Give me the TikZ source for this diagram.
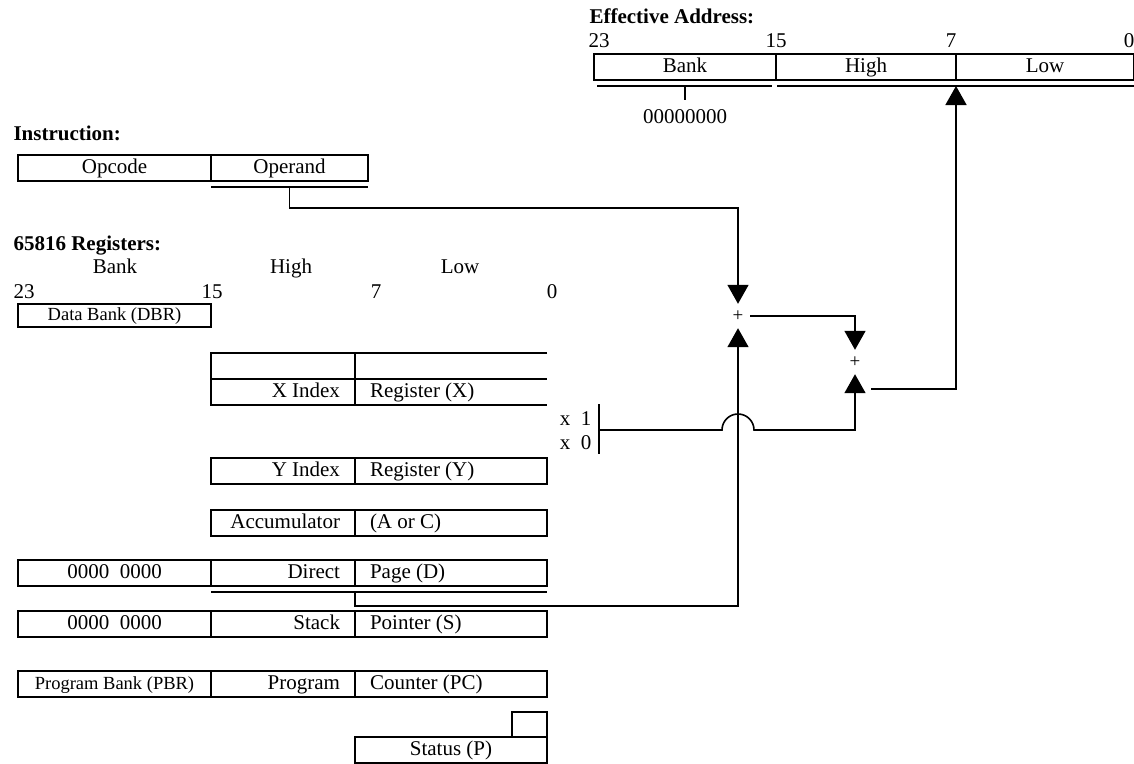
\documentclass[tikz,border=0pt]{standalone}
\usepackage{fontspec}
\setmainfont{Liberation Serif}
\usetikzlibrary{arrows.meta}

\tikzset{
  regcell/.style={draw, line width=2pt, anchor=north west, minimum height=26pt, outer sep=0pt,
    inner ysep=0pt, inner xsep=15pt, text height=14pt, text depth=4pt},
  bankcell/.style={regcell, text width=163pt, align=flush center},
  highcell/.style={regcell, text width=114pt, align=flush right},
  lowcell/.style={regcell, text width=162pt, align=flush left},
  smalltext/.style={font=\fontsize{18.5}{22}\selectfont},
  title/.style={anchor=base west, font=\fontsize{21}{24}\selectfont\bfseries},
  bitnum/.style={anchor=base},
  adder/.style={minimum size=24pt, inner sep=0pt, font=\fontsize{19}{19}\selectfont},
  conn/.style={line width=1.6pt},
  uline/.style={line width=2pt},
}

\begin{document}
\begin{tikzpicture}[x=1pt, y=-1pt, >={Triangle[length=19pt, width=21pt]},
    every node/.append style={font=\fontsize{21}{24}\selectfont}]
  \useasboundingbox (0,0) rectangle (1134,763);

  % effective address
  \node[title] (eatitle) at (586,23) {Effective Address:};
  \node[anchor=base west] (ea23) at (585,47) {23};
  \node[bitnum] (ea15) at (776,47) {15};
  \node[bitnum] (ea7) at (951,47) {7};
  \node[bitnum] (ea0) at (1129,47) {0};
  \node[regcell, minimum width=182pt, inner xsep=0pt] (eabank) at (594,54) {Bank};
  \node[regcell, minimum width=180pt, inner xsep=0pt] (eahigh) at (eabank.north east) {High};
  \node[regcell, minimum width=178pt, inner xsep=0pt] (ealow) at (eahigh.north east) {Low};
  \draw[uline] ([xshift=3pt, yshift=-6pt]eabank.south west) -- ([xshift=-4pt, yshift=-6pt]eabank.south east);
  \draw[uline] ([xshift=1pt, yshift=-6pt]eahigh.south west) -- ([yshift=-6pt]ealow.south east);
  \coordinate (zerotap) at ([yshift=-6pt]eabank.south);
  \coordinate (eatap) at ([yshift=-6pt]ealow.south west);
  \draw[conn] (zerotap) -- ++(0,14);
  \node[anchor=base] (zeros) at (685,123) {00000000};

  % instruction
  \node[title] (insttitle) at (10,140) {Instruction:};
  \node[regcell, minimum width=193pt, inner xsep=0pt] (opcode) at (18,155) {Opcode};
  \node[regcell, minimum width=157pt, inner xsep=0pt] (opnd) at (opcode.north east) {Operand};
  \draw[uline] ([yshift=-6pt]opnd.south west) -- ([yshift=-6pt]opnd.south east);
  \coordinate (optap) at ([yshift=-6pt]opnd.south);

  % register header
  \node[title] (regtitle) at (10,250) {65816 Registers:};
  \node[bitnum] (hbank) at (115,273) {Bank};
  \node[bitnum] (hhigh) at (291,273) {High};
  \node[bitnum] (hlow) at (460,273) {Low};
  \node[anchor=base west] (r23) at (10,298) {23};
  \node[bitnum] (r15) at (212,298) {15};
  \node[bitnum] (r7) at (376,298) {7};
  \node[bitnum] (r0) at (552,298) {0};

  % registers
  \node[bankcell, smalltext, minimum height=23pt] (dbr) at (18,304) {Data Bank (DBR)};

  \node[highcell, draw=none] (xhi) at (211,379) {X Index};
  \node[lowcell, draw=none] (xlo) at (xhi.north east) {Register (X)};
  \draw[uline] (547,353) -- (211,353) -- (xhi.south west) -- (xlo.south east);
  \draw[uline] (xhi.north west) -- (xlo.north east);
  \draw[uline] (xlo.south west) -- (xlo.south west |- 0,353);

  \node[highcell] (yhi) at (211,458) {Y Index};
  \node[lowcell] (ylo) at (yhi.north east) {Register (Y)};

  \node[highcell] (acchi) at (211,510) {Accumulator};
  \node[lowcell] (acclo) at (acchi.north east) {(A or C)};

  \node[bankcell] (dbank) at (18,560) {0000\ \ 0000};
  \node[highcell] (dhi) at (dbank.north east) {Direct};
  \node[lowcell] (dlo) at (dhi.north east) {Page (D)};
  \draw[uline] ([yshift=-6pt]dhi.south west) -- ([yshift=-6pt]dlo.south east);
  \coordinate (dtap) at ([yshift=-6pt]dlo.south west);

  \node[bankcell] (sbank) at (18,611) {0000\ \ 0000};
  \node[highcell] (shi) at (sbank.north east) {Stack};
  \node[lowcell] (slo) at (shi.north east) {Pointer (S)};

  \node[bankcell, smalltext] (pbr) at (18,671) {Program Bank (PBR)};
  \node[highcell] (pchi) at (pbr.north east) {Program};
  \node[lowcell] (pclo) at (pchi.north east) {Counter (PC)};

  \node[regcell, minimum width=35pt, minimum height=25pt, inner xsep=0pt] (pflags) at (512,712) {};
  \node[regcell, text width=162pt, align=flush center] (pstat) at (355,737) {Status (P)};

  % index selector
  \draw[conn] (599,404) -- (599,454);
  \node[anchor=base east] (xone) at (595,425) {x\ \ 1};
  \node[anchor=base east] (xzero) at (595,449) {x\ \ 0};
  \coordinate (xsel) at (599,430);
  \coordinate (hop) at (722,430);

  % adders
  \node[adder] (add1) at (738,316) {+};
  \node[adder] (add2) at (855,362) {+};
  \coordinate (sumout) at (871,389);

  % connectors
  \draw[conn, ->] (optap) -- ++(0,21) -| (add1.north);
  \draw[conn, ->] (dtap) -- ++(0,14) -| (add1.south);
  \draw[conn, ->] (add1.east) -| (add2.north);
  \draw[conn, ->] (xsel) -- (hop) arc[start angle=180, end angle=0, radius=16pt] -| (add2.south);
  \draw[conn, ->] (sumout) -| (eatap);
\end{tikzpicture}
\end{document}
